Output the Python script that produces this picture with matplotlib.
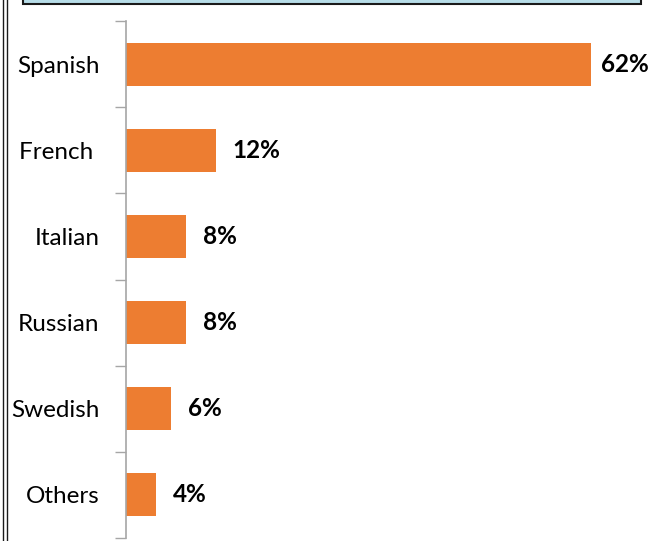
import matplotlib.pyplot as plt
from matplotlib.patches import Rectangle
from matplotlib.lines import Line2D

languages = ['Spanish', 'French ', 'Italian', 'Russian', 'Swedish', 'Others']
shares = [62, 12, 8, 8, 6, 4]
labels = ['62%', '12%', '8%', '8%', '6%', '4%']

W, H = 654, 541
fig = plt.figure(figsize=(W / 100, H / 100), dpi=100)
plt.rcParams['font.family'] = ['Lato', 'DejaVu Sans']

# plot area in pixels: x 126..645, y 21..538
ax = fig.add_axes([126 / W, 3 / H, (645 - 126) / W, (538 - 21) / H])

pos = list(range(len(languages)))
ax.barh(pos, shares, height=0.5, color='#ED7D31')
ax.set_ylim(len(languages) - 0.5, -0.5)
ax.set_xlim(0, (645 - 126) / 7.5)

for p, v, lab in zip(pos, shares, labels):
    off = 7 if v == max(shares) else 12
    ax.annotate(lab, (v, p), xytext=(off, 0), textcoords='offset points',
                va='center', ha='left', fontsize=17.5, fontweight='bold',
                color='black')

# category labels, ticks between categories
ax.set_yticks(pos)
ax.set_yticklabels(languages, fontsize=17.5)
ax.tick_params(axis='y', which='major', length=0, pad=19)
ax.set_yticks([p - 0.5 for p in pos] + [len(pos) - 0.5], minor=True)
ax.tick_params(axis='y', which='minor', length=8, width=1, color='#A6A6A6')
ax.set_xticks([])
for s in ['top', 'right', 'bottom']:
    ax.spines[s].set_visible(False)
ax.spines['left'].set_color('#A6A6A6')
ax.spines['left'].set_linewidth(1.2)

# slide frame remnants: title box at top and double line at left
fig.patches.append(Rectangle((23 / W, 1 - 4 / H), (641 - 23) / W, 10 / H,
                             transform=fig.transFigure, facecolor='#B7DDE8',
                             edgecolor='#1A1A1A', linewidth=1.5))
for x in [2.5, 7]:
    fig.lines.append(Line2D([x / W, x / W], [0, 1], transform=fig.transFigure,
                            color='#1A1A1A', linewidth=1))

fig.savefig('out.png', dpi=100)
